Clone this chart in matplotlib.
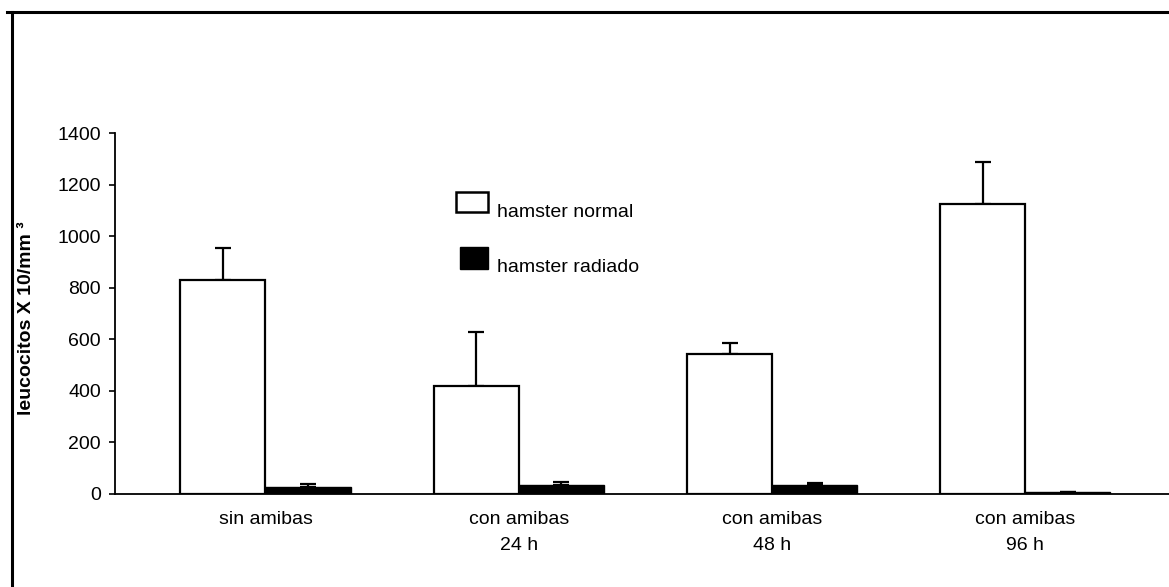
import numpy as np
import matplotlib
matplotlib.use("Agg")
import matplotlib.pyplot as plt
from matplotlib.patches import Rectangle
from matplotlib.lines import Line2D

# leucocitos por grupo (media y desviacion)
grupos = ["sin amibas", "con amibas\n24 h", "con amibas\n48 h", "con amibas\n96 h"]
normal = [830, 420, 543, 1124]
normal_err = [125, 208, 42, 163]
radiado = [27, 34, 33, 8]
radiado_err = [13, 14, 9, 0]

W, H = 1169, 587
plt.rcParams["font.family"] = ["Liberation Sans", "DejaVu Sans"]

fig = plt.figure(figsize=(W / 100, H / 100), dpi=100)
ax = fig.add_axes([115 / W, 1 - 494 / H, 1 - 115 / W, (494 - 133) / H])

def px(x, y):
    """pixel (desde arriba-izquierda) a fraccion de figura"""
    return x / W, 1 - y / H

x = np.arange(len(grupos))
ancho = 0.336
ax.bar(x - ancho / 2, normal, ancho, color="white", edgecolor="black", linewidth=1.6, zorder=2)
ax.bar(x + ancho / 2, radiado, ancho, color="black", edgecolor="black", linewidth=1.0, zorder=2)
ax.errorbar(x - ancho / 2, normal, yerr=[np.zeros(4), normal_err], fmt="none",
            ecolor="black", elinewidth=1.6, capsize=6, capthick=1.6, zorder=1)
ax.errorbar(x + ancho / 2, radiado, yerr=[np.zeros(4), radiado_err], fmt="none",
            ecolor="black", elinewidth=1.6, capsize=6, capthick=1.6, zorder=1)

ax.set_xlim(-0.594, 3.567)
ax.set_ylim(0, 1400)
ax.set_yticks(range(0, 1401, 200))
ax.tick_params(axis="y", direction="out", length=4, width=1.2, pad=6, labelsize=14)
ax.set_xticks(x)
ax.set_xticklabels(grupos, fontsize=14, linespacing=1.75)
ax.tick_params(axis="x", length=0, pad=12)
for s in ["top", "right"]:
    ax.spines[s].set_visible(False)
ax.spines["left"].set_linewidth(1.3)
ax.spines["bottom"].set_linewidth(1.3)

fig.text(*px(27, 318), "leucocitos X 10/mm ³", rotation=90, fontsize=14,
         fontweight="bold", ha="center", va="center")

# leyenda
fig.add_artist(Rectangle(px(456, 212), 32 / W, 20 / H, facecolor="white",
                         edgecolor="black", linewidth=1.8))
fig.add_artist(Rectangle(px(460, 269), 28 / W, 22 / H, facecolor="black",
                         edgecolor="black", linewidth=1.0))
fig.text(*px(497, 217), "hamster normal", fontsize=14, ha="left", va="baseline")
fig.text(*px(497, 272), "hamster radiado", fontsize=14, ha="left", va="baseline")

# marco exterior
fig.add_artist(Line2D([7 / W, 1], [1 - 12 / H] * 2, color="black", linewidth=2.2))
fig.add_artist(Line2D([12 / W] * 2, [1 - 12 / H, 0], color="black", linewidth=2.2))

fig.savefig("out.png", dpi=100)
